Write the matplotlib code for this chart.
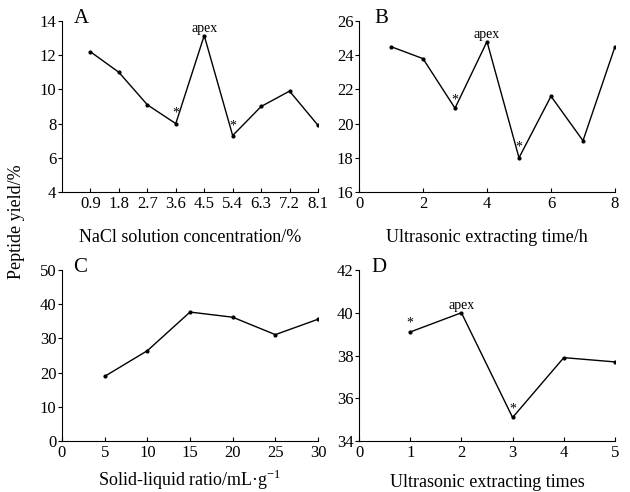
import matplotlib
matplotlib.use('Agg')
import matplotlib.pyplot as plt

plt.rcParams['font.family'] = ['Liberation Serif', 'DejaVu Serif']
plt.rcParams['mathtext.fontset'] = 'custom'
plt.rcParams['mathtext.rm'] = 'Liberation Serif'

# panel A: NaCl concentration
a_labels = ['0.9', '1.8', '2.7', '3.6', '4.5', '5.4', '6.3', '7.2', '8.1']
a_y = [12.2, 11.0, 9.1, 8.0, 13.15, 7.3, 9.0, 9.9, 7.9]
# panel B: ultrasonic extracting time
b_x = [1, 2, 3, 4, 5, 6, 7, 8]
b_y = [24.5, 23.8, 20.9, 24.8, 18.0, 21.6, 19.0, 24.5]
# panel C: solid-liquid ratio
c_x = [5, 10, 15, 20, 25, 30]
c_y = [18.9, 26.4, 37.7, 36.2, 31.1, 35.6]
# panel D: extracting times
d_x = [1, 2, 3, 4, 5]
d_y = [39.1, 40.0, 35.1, 37.9, 37.7]

fig = plt.figure(figsize=(6.3, 4.92), dpi=100)
W, H = 630, 492
def box(x0, y0, x1, y1):
    return [x0/W, 1 - y1/H, (x1-x0)/W, (y1-y0)/H]

axA = fig.add_axes(box(62, 21, 318, 192))
axB = fig.add_axes(box(359, 21, 615, 192))
axC = fig.add_axes(box(62, 270, 318, 441))
axD = fig.add_axes(box(359, 270, 615, 441))

def style(ax, letter, lx):
    ax.spines['top'].set_visible(False)
    ax.spines['right'].set_visible(False)
    ax.tick_params(axis='x', direction='in', length=3, labelsize=12, pad=3)
    ax.tick_params(axis='y', direction='out', length=3, labelsize=12, pad=1)
    ax.text(lx, 1.015, letter, transform=ax.transAxes, fontsize=15, va='center', ha='left')

def line(ax, x, y):
    ax.plot(x, y, color='k', lw=1, marker='o', ms=2)

def note(ax, x, y, s, dy):
    ax.text(x, y + dy, s, ha='center', va='bottom', fontsize=10)

# A
a_pos = list(range(1, len(a_labels) + 1))
line(axA, a_pos, a_y)
axA.set_xlim(0, 9)
axA.set_ylim(4, 14)
axA.set_xticks(a_pos)
axA.set_xticklabels(a_labels)
axA.set_yticks(range(4, 15, 2))
axA.set_xlabel('NaCl solution concentration/%', fontsize=13, labelpad=12)
style(axA, 'A', 0.045)
note(axA, 4, a_y[3], '*', 0.25)
note(axA, 5, a_y[4], 'apex', 0.05)
note(axA, 6, a_y[5], '*', 0.15)

# B
line(axB, b_x, b_y)
axB.set_xlim(0, 8)
axB.set_ylim(16, 26)
axB.set_xticks(range(0, 9, 2))
axB.set_yticks(range(16, 27, 2))
axB.set_xlabel('Ultrasonic extracting time/h', fontsize=13, labelpad=12)
style(axB, 'B', 0.062)
note(axB, 3, b_y[2], '*', 0.1)
note(axB, 4, b_y[3], 'apex', 0.05)
note(axB, 5, b_y[4], '*', 0.25)

# C
line(axC, c_x, c_y)
axC.set_xlim(0, 30)
axC.set_ylim(0, 50)
axC.set_xticks(range(0, 31, 5))
axC.set_yticks(range(0, 51, 10))
axC.set_xlabel('Solid-liquid ratio/mL·g$^{\\mathrm{-1}}$', fontsize=13, labelpad=5)
style(axC, 'C', 0.045)

# D
line(axD, d_x, d_y)
axD.set_xlim(0, 5)
axD.set_ylim(34, 42)
axD.set_xticks(range(0, 6))
axD.set_yticks(range(34, 43, 2))
axD.set_xlabel('Ultrasonic extracting times', fontsize=13, labelpad=9)
style(axD, 'D', 0.05)
note(axD, 1, d_y[0], '*', 0.1)
note(axD, 2, d_y[1], 'apex', 0.05)
note(axD, 3, d_y[2], '*', 0.1)

fig.text(17/W, 1 - 222/H, 'Peptide yield/%', rotation=90, ha='center', va='center', fontsize=13)

fig.savefig('out.png', dpi=100)
